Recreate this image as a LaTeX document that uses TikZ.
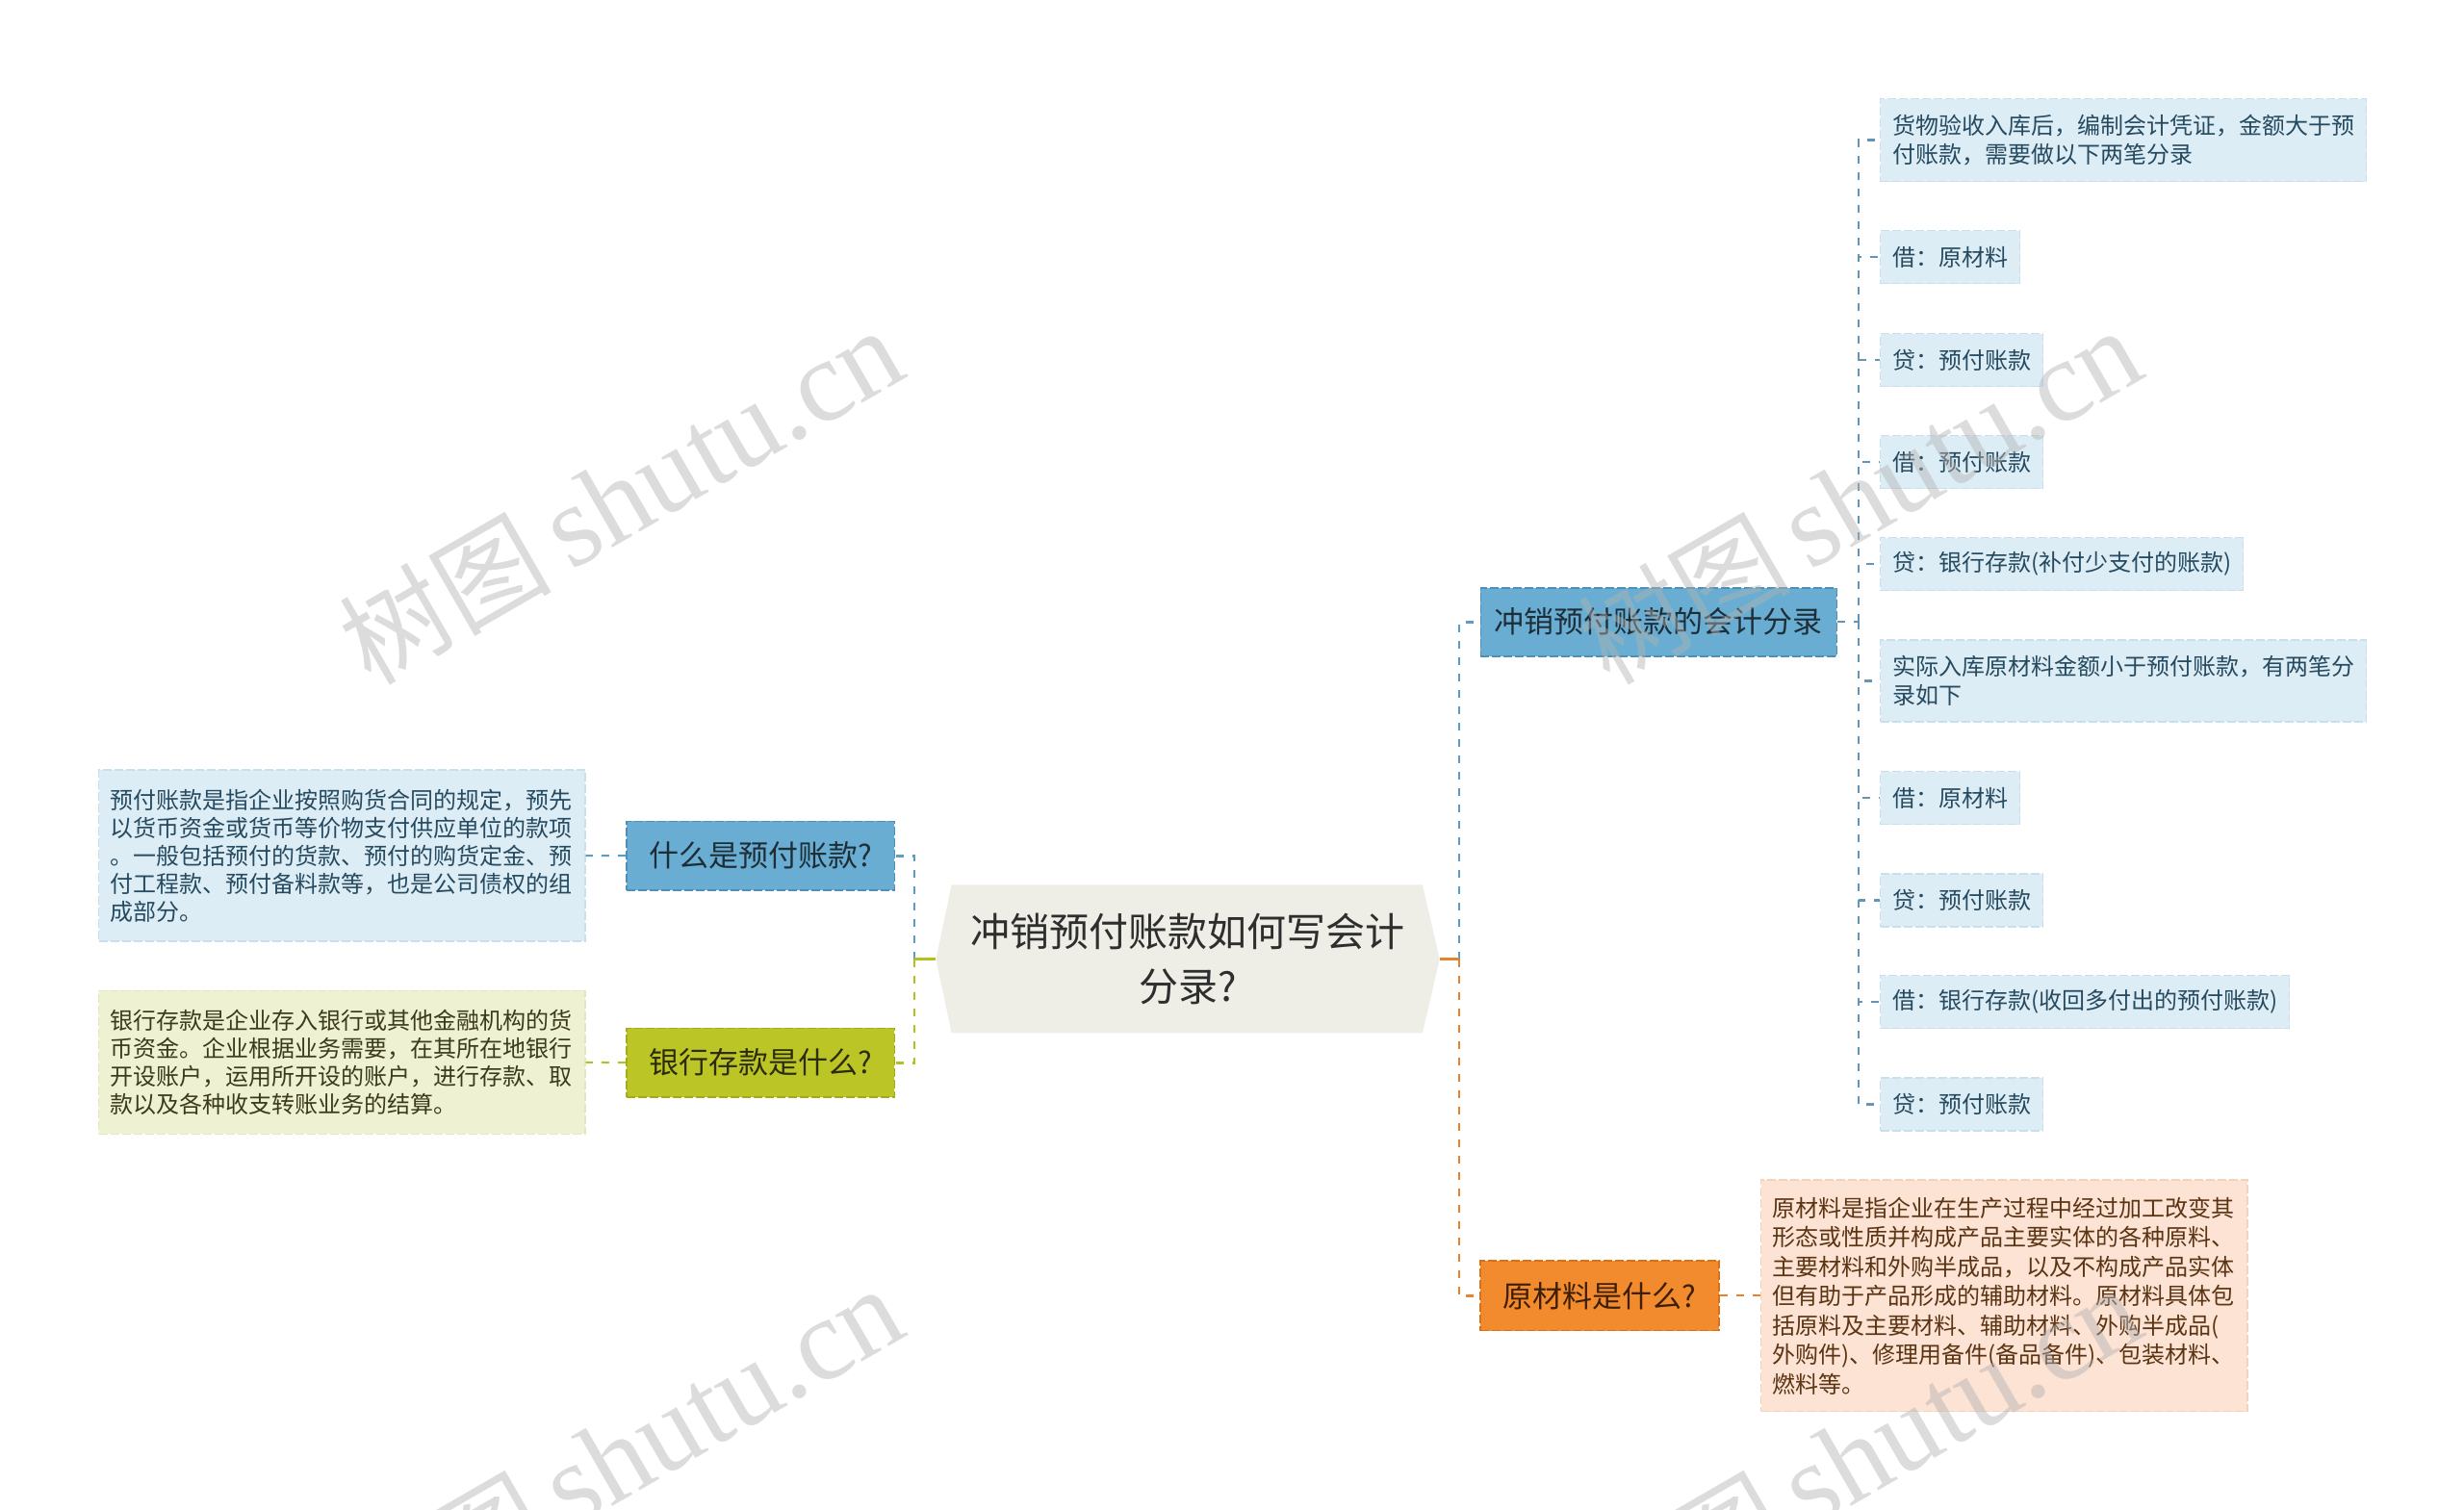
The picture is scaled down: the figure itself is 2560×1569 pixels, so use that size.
\documentclass[tikz,border=0pt]{standalone}
\usepackage{fontspec}
\setmainfont{Noto Sans CJK SC}
\newfontfamily\wmserif{Liberation Serif}
\definecolor{cfill}{HTML}{EEEEE7}
\definecolor{ctext}{HTML}{2E2E2E}
\definecolor{bluefill}{HTML}{69AED2}
\definecolor{blueborder}{HTML}{4E8FB8}
\definecolor{bluetext}{HTML}{1E2E38}
\definecolor{greenfill}{HTML}{BCC526}
\definecolor{greenborder}{HTML}{A3AC16}
\definecolor{greentext}{HTML}{2C2C0C}
\definecolor{orangefill}{HTML}{F28A2E}
\definecolor{orangeborder}{HTML}{DB6F16}
\definecolor{orangetext}{HTML}{3D1F05}
\definecolor{leaffill}{HTML}{DDEDF5}
\definecolor{leafborder}{HTML}{C9DFEB}
\definecolor{leaftext}{HTML}{264A60}
\definecolor{gdescfill}{HTML}{EFF2D2}
\definecolor{gdescborder}{HTML}{E2E7BC}
\definecolor{gdesctext}{HTML}{3A3A1C}
\definecolor{odescfill}{HTML}{FCE3D3}
\definecolor{odescborder}{HTML}{F3D2BE}
\definecolor{odesctext}{HTML}{5B3414}
\definecolor{blueline}{HTML}{5B9DC4}
\definecolor{greenline}{HTML}{B6BF20}
\definecolor{orangeline}{HTML}{E8822B}
\definecolor{leafline}{HTML}{6594B5}
\begin{document}
\begin{tikzpicture}[x=1pt,y=-1pt,
  conn/.style={line width=2.6pt, dash pattern=on 8pt off 9pt},
  descconn/.style={line width=2pt, dash pattern=on 8pt off 9pt},
  stub/.style={line width=2.6pt},
  leafconn/.style={line width=2.2pt, dash pattern=on 8pt off 9pt, draw=leafline},
  topic/.style={rectangle, inner sep=0pt, line width=1.6pt, dash pattern=on 9pt off 3pt, font=\fontsize{31}{31}\selectfont},
  leaf/.style={rectangle, anchor=west, fill=leaffill, draw=leafborder, line width=1.3pt, dash pattern=on 9pt off 3pt, inner xsep=12.5pt, inner ysep=0pt, minimum height=55pt, font=\fontsize{24}{30}\selectfont, text=leaftext},
  desc/.style={rectangle, line width=1.3pt, dash pattern=on 9pt off 3pt, inner xsep=11.75pt, inner ysep=0pt, text width=482pt, align=left, font=\fontsize{24}{29}\selectfont},
  wm/.style={rotate=30, text=gray!60, text opacity=0.45}
]
\fill[white] (0,0) rectangle (2560,1569);
\useasboundingbox (0,0) rectangle (2560,1569);

% central topic
\fill[cfill] (972.5,996.7) -- (988.6,919.3) -- (1477.9,919.3) -- (1495.7,996.7) -- (1477.9,1073.3) -- (988.6,1073.3) -- cycle;
\node[inner sep=0pt, minimum width=523.2pt, minimum height=154pt, align=center, font=\fontsize{41}{57}\selectfont, text=ctext] (c) at (1234.1,996.7) {冲销预付账款如何写会计\\分录?};

% main topics
\node[topic, fill=bluefill, draw=blueborder, text=bluetext, minimum width=370pt, minimum height=71pt] (b1) at (1723.3,646.2) {冲销预付账款的会计分录};
\node[topic, fill=orangefill, draw=orangeborder, text=orangetext, minimum width=247.8pt, minimum height=72.7pt] (b2) at (1662.1,1346.3) {原材料是什么?};
\node[topic, fill=bluefill, draw=blueborder, text=bluetext, minimum width=278.6pt, minimum height=71.7pt] (l1) at (790,889.2) {什么是预付账款?};
\node[topic, fill=greenfill, draw=greenborder, text=greentext, minimum width=278.6pt, minimum height=71.7pt] (l2) at (790,1104.2) {银行存款是什么?};

% descriptions
\node[desc, fill=leaffill, draw=leafborder, text=leaftext, minimum height=178pt] (d1) at (355.25,889) {预付账款是指企业按照购货合同的规定，预先\\以货币资金或货币等价物支付供应单位的款项\\。一般包括预付的货款、预付的购货定金、预\\付工程款、预付备料款等，也是公司债权的组\\成部分。};
\node[desc, fill=gdescfill, draw=gdescborder, text=gdesctext, minimum height=149pt] (d2) at (355.25,1103.8) {银行存款是企业存入银行或其他金融机构的货\\币资金。企业根据业务需要，在其所在地银行\\开设账户，运用所开设的账户，进行存款、取\\款以及各种收支转账业务的结算。};
\node[desc, fill=odescfill, draw=odescborder, text=odesctext, minimum height=240.7pt, font=\fontsize{24}{30.5}\selectfont] (d3) at (2082.25,1346.3) {原材料是指企业在生产过程中经过加工改变其\\形态或性质并构成产品主要实体的各种原料、\\主要材料和外购半成品，以及不构成产品实体\\但有助于产品形成的辅助材料。原材料具体包\\括原料及主要材料、辅助材料、外购半成品(\\外购件)、修理用备件(备品备件)、包装材料、\\燃料等。};

% leaves
\node[leaf, minimum height=86pt, text width=480pt, align=left] (L1) at (1952.9,145.5) {货物验收入库后，编制会计凭证，金额大于预\\付账款，需要做以下两笔分录};
\node[leaf] (L2) at (1952.9,267) {借：原材料};
\node[leaf] (L3) at (1952.9,374) {贷：预付账款};
\node[leaf] (L4) at (1952.9,480) {借：预付账款};
\node[leaf] (L5) at (1952.9,586) {贷：银行存款(补付少支付的账款)};
\node[leaf, minimum height=85pt, text width=480pt, align=left] (L6) at (1952.9,707.5) {实际入库原材料金额小于预付账款，有两笔分\\录如下};
\node[leaf] (L7) at (1952.9,829) {借：原材料};
\node[leaf] (L8) at (1952.9,935.5) {贷：预付账款};
\node[leaf] (L9) at (1952.9,1041) {借：银行存款(收回多付出的预付账款)};
\node[leaf] (L10) at (1952.9,1147.5) {贷：预付账款};

% junctions
\coordinate (jr) at (1516,996.7);
\coordinate (jl) at (950,996.7);
\coordinate (jb) at (1930.7,646.2);

% connectors
\draw[conn, blueline] (jr) |- (b1.west);
\draw[stub, blueline] (c.east) -- (jr);
\draw[conn, blueline] (jl) |- (l1.east);
\draw[stub, blueline] (c.west) -- (jl);
\draw[conn, greenline] (jl) |- (l2.east);
\draw[stub, greenline] (c.west) -- (jl);
\draw[conn, orangeline] (jr) |- (b2.west);
\draw[stub, orangeline] (c.east) -- (jr);

\draw[descconn, blueline] (l1.west) -- (d1.east);
\draw[descconn, greenline] (l2.west) -- (d2.east);
\draw[descconn, orangeline] (b2.east) -- (d3.west);

\draw[leafconn] (b1.east) -- (jb);
\foreach \n in {L1,L2,L3,L4,L5,L6,L7,L8,L9,L10} \draw[leafconn] (jb) |- (\n.west);

% watermarks
\foreach \p in {(645,516),(1932,516),(645,1512),(1932,1512)}
  \node[wm] at \p {\fontsize{110}{110}\selectfont 树图\hspace{20pt}{\wmserif\fontsize{121}{121}\selectfont shutu.cn}};
\end{tikzpicture}
\end{document}
